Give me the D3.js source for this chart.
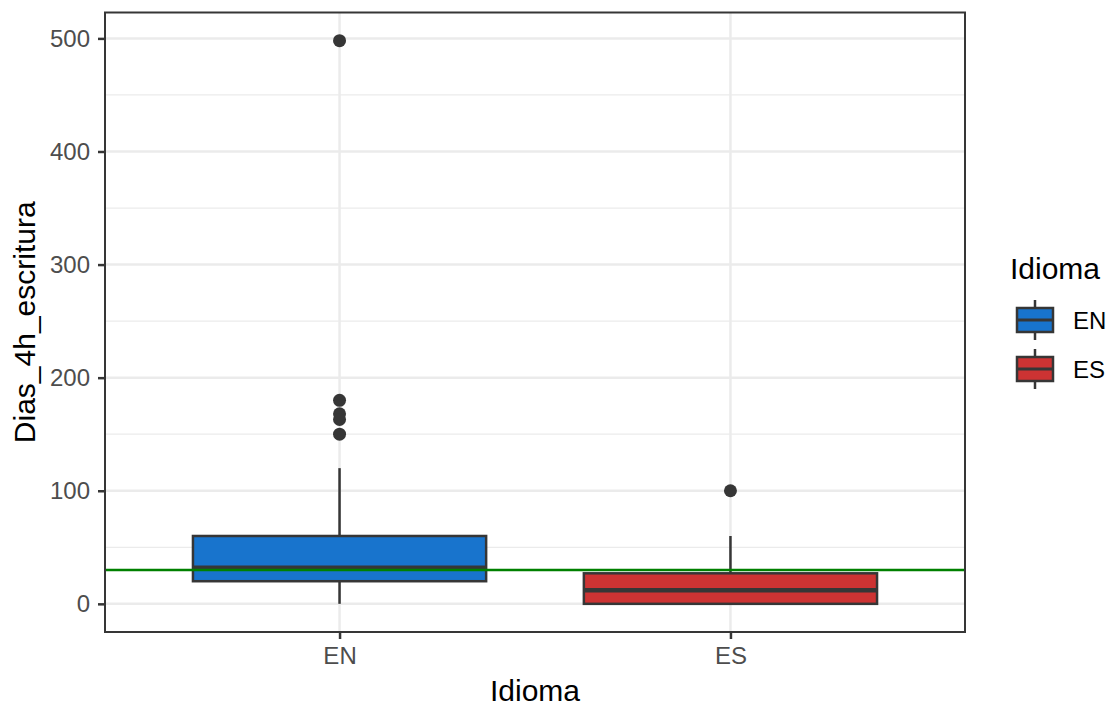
<!DOCTYPE html>
<html>
<head>
<meta charset="utf-8">
<script src="https://cdn.jsdelivr.net/npm/d3@7"></script>
<style>
  body { margin: 0; background: #fff; }
  text { font-family: "Liberation Sans", Arial, sans-serif; }
</style>
</head>
<body>
<svg width="1113" height="706"></svg>
<script>
// Data
const categories = ["EN", "ES"];
const colors = ["#1874CD", "#CD3333"];
// box stats: lower whisker, q1, median, q3, upper whisker
const lowWhisker = [0, 0];
const q1 = [20, 0];
const median = [32, 12];
const q3 = [60, 27];
const highWhisker = [120, 60];
const outliersEN = [498, 180, 168, 163, 150];
const outliersES = [100];
const yTicks = [0, 100, 200, 300, 400, 500];
const yMinor = [50, 150, 250, 350, 450];
const refLine = 30;

const svg = d3.select("svg");
const margin = {left: 105, right: 148, top: 12.5, bottom: 74};
const W = 1113, H = 706;
const x0 = margin.left, x1 = W - margin.right;
const y0 = H - margin.bottom, y1 = margin.top;
const ink = "#363636";

// discrete scale like ggplot: positions 1..n with 0.6 expansion
const x = d3.scaleLinear().domain([0.4, categories.length + 0.6]).range([x0, x1]);
const allMax = 498, allMin = 0;
const pad = (allMax - allMin) * 0.05;
const y = d3.scaleLinear().domain([allMin - pad, allMax + pad]).range([y0, y1]);

const grid = svg.append("g");
grid.selectAll(".minor").data(yMinor).join("line")
  .attr("x1", x0).attr("x2", x1)
  .attr("y1", d => y(d)).attr("y2", d => y(d))
  .attr("stroke", "#EBEBEB").attr("stroke-width", 1.3);
grid.selectAll(".major").data(yTicks).join("line")
  .attr("x1", x0).attr("x2", x1)
  .attr("y1", d => y(d)).attr("y2", d => y(d))
  .attr("stroke", "#EBEBEB").attr("stroke-width", 2.5);
grid.selectAll(".xmajor").data(categories).join("line")
  .attr("x1", (d, i) => x(i + 1)).attr("x2", (d, i) => x(i + 1))
  .attr("y1", y0).attr("y2", y1)
  .attr("stroke", "#EBEBEB").attr("stroke-width", 2.5);

// boxes
const bw = 0.75;
const boxes = svg.append("g");
categories.forEach((c, i) => {
  const cx = x(i + 1);
  const half = (x(i + 1 + bw / 2) - x(i + 1 - bw / 2)) / 2;
  const g = boxes.append("g");
  g.append("line").attr("x1", cx).attr("x2", cx)
    .attr("y1", y(q3[i])).attr("y2", y(highWhisker[i]))
    .attr("stroke", ink).attr("stroke-width", 2.5);
  g.append("line").attr("x1", cx).attr("x2", cx)
    .attr("y1", y(q1[i])).attr("y2", y(lowWhisker[i]))
    .attr("stroke", ink).attr("stroke-width", 2.5);
  g.append("rect").attr("x", cx - half).attr("width", 2 * half)
    .attr("y", y(q3[i])).attr("height", y(q1[i]) - y(q3[i]))
    .attr("fill", colors[i]).attr("stroke", ink).attr("stroke-width", 2.5);
  g.append("line").attr("x1", cx - half).attr("x2", cx + half)
    .attr("y1", y(median[i])).attr("y2", y(median[i]))
    .attr("stroke", ink).attr("stroke-width", 4.5);
  const outs = i === 0 ? outliersEN : outliersES;
  g.selectAll("circle").data(outs).join("circle")
    .attr("cx", cx).attr("cy", d => y(d)).attr("r", 6.5)
    .attr("fill", ink);
});

// reference line
svg.append("line").attr("x1", x0).attr("x2", x1)
  .attr("y1", y(refLine)).attr("y2", y(refLine))
  .attr("stroke", "#008000").attr("stroke-width", 2.5);

// panel border
svg.append("rect").attr("x", x0).attr("y", y1)
  .attr("width", x1 - x0).attr("height", y0 - y1)
  .attr("fill", "none").attr("stroke", ink).attr("stroke-width", 2);

// axes
const yAxis = svg.append("g").attr("transform", `translate(${x0},0)`)
  .call(d3.axisLeft(y).tickValues(yTicks).tickSize(7).tickPadding(8));
yAxis.select(".domain").remove();
yAxis.selectAll("line").attr("stroke", ink).attr("stroke-width", 2.5);
yAxis.selectAll("text").attr("fill", "#4D4D4D").style("font-size", "24px")
  .style("font-family", "Liberation Sans, Arial, sans-serif");

const xAxis = svg.append("g").attr("transform", `translate(0,${y0})`)
  .call(d3.axisBottom(x).tickValues([1, 2]).tickFormat(d => categories[d - 1]).tickSize(7).tickPadding(8));
xAxis.select(".domain").remove();
xAxis.selectAll("line").attr("stroke", ink).attr("stroke-width", 2.5);
xAxis.selectAll("text").attr("fill", "#4D4D4D").style("font-size", "24px")
  .style("font-family", "Liberation Sans, Arial, sans-serif");

// titles
svg.append("text").attr("x", (x0 + x1) / 2).attr("y", 701)
  .attr("text-anchor", "middle").style("font-size", "30px").text("Idioma");
svg.append("text").attr("transform", `translate(35,${(y0 + y1) / 2}) rotate(-90)`)
  .attr("text-anchor", "middle").style("font-size", "30px").text("Dias_4h_escritura");

// legend
const lg = svg.append("g");
lg.append("text").attr("x", 1010).attr("y", 279).style("font-size", "30px").text("Idioma");
categories.forEach((c, i) => {
  const cy = 320 + i * 49;
  const k = lg.append("g");
  k.append("line").attr("x1", 1035).attr("x2", 1035).attr("y1", cy - 20).attr("y2", cy + 20)
    .attr("stroke", ink).attr("stroke-width", 2.5);
  k.append("rect").attr("x", 1017).attr("y", cy - 12).attr("width", 36).attr("height", 24)
    .attr("fill", colors[i]).attr("stroke", ink).attr("stroke-width", 2.5);
  k.append("line").attr("x1", 1017).attr("x2", 1053).attr("y1", cy).attr("y2", cy)
    .attr("stroke", ink).attr("stroke-width", 3);
  k.append("text").attr("x", 1073).attr("y", cy + 8.5).style("font-size", "24px").text(c);
});
</script>
</body>
</html>
